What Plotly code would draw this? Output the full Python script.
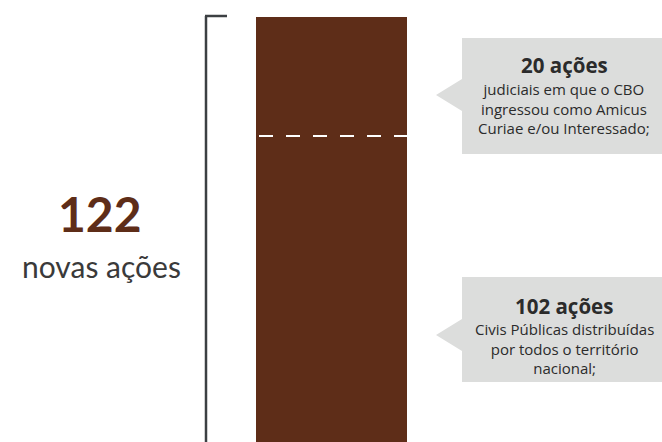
import plotly.graph_objects as go

# Data
segments = ["Civis Públicas", "Amicus Curiae / Interessado"]
values = [102, 20]
total = sum(values)
headlines = ["102 ações", "20 ações"]
bodies = [
    "Civis Públicas distribuídas<br>por todos o território<br>nacional;",
    "judiciais em que o CBO<br>ingressou como Amicus<br>Curiae e/ou Interessado;",
]

BROWN = "#5e2d18"
GREY_BOX = "#dcdddc"
TEXT = "#2b2b2b"
FONT = "Open Sans"
FONT_BIG = "Lato"

W, H = 662, 442
bar_x = 331.5
bar_w = 151

fig = go.Figure()
for v, name in zip(values, segments):
    fig.add_trace(go.Bar(x=[bar_x], y=[v], width=bar_w, name=name,
                         marker=dict(color=BROWN, line=dict(width=0)),
                         hoverinfo="skip"))
# invisible trace for the pixel overlay axis
fig.add_trace(go.Scatter(x=[0], y=[0], yaxis="y2", mode="markers",
                         marker=dict(opacity=0), hoverinfo="skip", showlegend=False))

shapes = []
# dashed divider at boundary between segments
shapes.append(dict(type="line", xref="x", yref="y", x0=bar_x - bar_w / 2 + 3, x1=bar_x + bar_w / 2,
                   y0=values[0], y1=values[0],
                   line=dict(color="white", width=2, dash="14px,13px")))
# bracket
shapes.append(dict(type="line", xref="x", yref="y2", x0=206, x1=206, y0=16, y1=445,
                   line=dict(color="#3c4043", width=2.5)))
shapes.append(dict(type="line", xref="x", yref="y2", x0=205, x1=227, y0=16, y1=16,
                   line=dict(color="#3c4043", width=2.5)))

# callout boxes (pixel overlay axis)
boxes = [  # (top, bottom, tip_y) for segment 0 (102) and 1 (20)
    (277, 382, 335),
    (38, 154, 95),
]
for top, bot, tip in boxes:
    path = (f"M 462 {top} L 670 {top} L 670 {bot} L 462 {bot} "
            f"L 462 {tip + 16} L 436 {tip} L 462 {tip - 16} Z")
    shapes.append(dict(type="path", xref="x", yref="y2", path=path,
                       fillcolor=GREY_BOX, line=dict(width=0), layer="below"))

annotations = []
head_y = [306, 65]
body_y = [348, 108]
for i in range(2):
    annotations.append(dict(x=564, y=head_y[i], xref="x", yref="y2", text=f"<b>{headlines[i]}</b>",
                            showarrow=False, font=dict(family=FONT, size=20.5, color=TEXT)))
    annotations.append(dict(x=564, y=body_y[i], xref="x", yref="y2", text=bodies[i],
                            showarrow=False, font=dict(family=FONT, size=15, color=TEXT)))

annotations.append(dict(x=100, y=213, xref="x", yref="y2", text=f"<b>{total}</b>",
                        showarrow=False, font=dict(family=FONT_BIG, size=48, color=BROWN)))
annotations.append(dict(x=101, y=266, xref="x", yref="y2", text="novas ações",
                        showarrow=False, font=dict(family=FONT_BIG, size=30, color="#3a3a3a")))

# scale: bar top at pixel 17, divider at pixel 136
k = (136 - 17) / values[1]
y_top = total + 17 / k
y_bot = total - (H - 17) / k

fig.update_layout(
    width=W, height=H, margin=dict(l=0, r=0, t=0, b=0),
    paper_bgcolor="white", plot_bgcolor="white",
    barmode="stack", showlegend=False,
    xaxis=dict(range=[0, W], visible=False, fixedrange=True),
    yaxis=dict(range=[y_bot, y_top], visible=False, fixedrange=True),
    yaxis2=dict(range=[H, 0], overlaying="y", visible=False, fixedrange=True),
    shapes=shapes, annotations=annotations,
)

fig.write_html("out.html")
